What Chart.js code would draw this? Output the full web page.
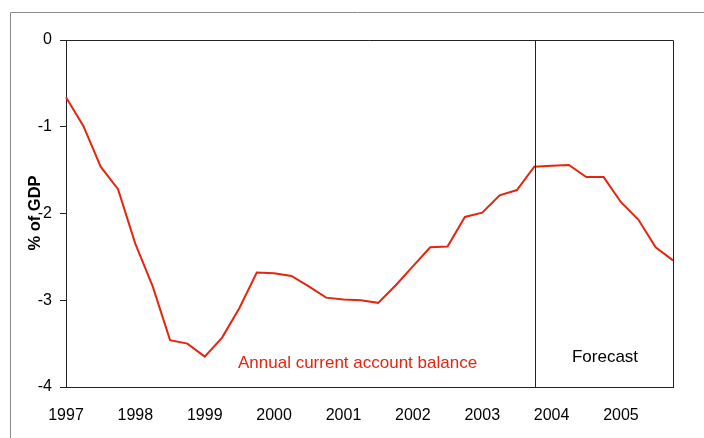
<!DOCTYPE html>
<html>
<head>
<meta charset="utf-8">
<script src="https://cdn.jsdelivr.net/npm/chart.js@4"></script>
<style>
  html, body { margin: 0; padding: 0; background: #fff; }
  #wrap { width: 704px; height: 438px; }
</style>
</head>
<body>
<div id="wrap"><canvas id="cab"></canvas></div>
<script>
// quarterly current account balance, % of GDP, 1997Q1 - 2005Q4
const years = ['1997', '1998', '1999', '2000', '2001', '2002', '2003', '2004', '2005'];
const quarters = years.flatMap(y => ['Q1', 'Q2', 'Q3', 'Q4'].map(q => y + ' ' + q));
const balance = [
  -0.66, -0.99, -1.46, -1.72,
  -2.35, -2.84, -3.46, -3.50,
  -3.65, -3.43, -3.09, -2.68,
  -2.69, -2.72, -2.84, -2.97,
  -2.99, -3.00, -3.03, -2.83,
  -2.61, -2.39, -2.38, -2.04,
  -1.99, -1.79, -1.73, -1.46,
  -1.45, -1.44, -1.58, -1.58,
  -1.87, -2.07, -2.39, -2.54
];
const yTicks = [0, -1, -2, -3, -4];
const forecastFrom = 27.05; // position of the forecast divider on the category axis

const FONT = '"Liberation Sans", Arial, sans-serif';
const RED = '#e5250f';

const extras = {
  id: 'extras',
  beforeDraw(chart) {
    const ctx = chart.ctx;
    ctx.save();
    // outer frame
    ctx.strokeStyle = '#8a8a8a';
    ctx.lineWidth = 1;
    ctx.beginPath();
    ctx.moveTo(10.5, 438);
    ctx.lineTo(10.5, 12.5);
    ctx.lineTo(704, 12.5);
    ctx.stroke();
    ctx.restore();
  },
  afterDatasetsDraw(chart) {
    const { ctx, chartArea: a, scales } = chart;
    ctx.save();
    // box around plot
    ctx.strokeStyle = '#222';
    ctx.lineWidth = 1;
    ctx.beginPath();
    ctx.moveTo(a.left, a.top + 0.5);
    ctx.lineTo(a.right + 0.5, a.top + 0.5);
    ctx.lineTo(a.right + 0.5, a.bottom);
    ctx.stroke();
    // forecast divider
    const fx = Math.round(scales.x.getPixelForValue(forecastFrom)) + 0.5;
    ctx.beginPath();
    ctx.moveTo(fx, a.top);
    ctx.lineTo(fx, a.bottom);
    ctx.stroke();

    ctx.font = '17px ' + FONT;
    ctx.textBaseline = 'middle';
    ctx.fillStyle = RED;
    ctx.textAlign = 'left';
    ctx.fillText('Annual current account balance', 238, 363);
    ctx.fillStyle = '#000';
    ctx.textAlign = 'center';
    ctx.fillText('Forecast', 605, 357);

    // y axis title
    ctx.translate(35, 213);
    ctx.rotate(-Math.PI / 2);
    ctx.font = 'bold 16.5px ' + FONT;
    ctx.fillText('% of GDP', 0, 0);
    ctx.restore();
  }
};

new Chart(document.getElementById('cab'), {
  type: 'line',
  data: {
    labels: quarters,
    datasets: [{
      label: 'Annual current account balance',
      data: balance,
      borderColor: RED,
      borderWidth: 2,
      pointRadius: 0,
      tension: 0,
      fill: false
    }]
  },
  options: {
    responsive: true,
    maintainAspectRatio: false,
    animation: false,
    devicePixelRatio: 1,
    layout: { padding: { top: 40, right: 31, left: 0, bottom: 0 } },
    plugins: {
      legend: { display: false },
      tooltip: { enabled: false }
    },
    scales: {
      x: {
        type: 'category',
        offset: false,
        grid: { display: false, drawTicks: false },
        border: { display: true, color: '#222', width: 1 },
        ticks: {
          autoSkip: false,
          maxRotation: 0,
          padding: 19,
          color: '#000',
          font: { family: FONT, size: 16 },
          callback: (v, i) => (i % 4 === 0 ? years[i / 4] : '')
        },
        afterFit: s => { s.height = 51; }
      },
      y: {
        min: -4,
        max: 0,
        grid: { display: true, drawOnChartArea: false, drawTicks: true, tickLength: 6, color: '#222' },
        border: { display: true, color: '#222', width: 1 },
        afterBuildTicks: s => { s.ticks = yTicks.map(v => ({ value: v })); },
        ticks: {
          padding: 8,
          color: '#000',
          font: { family: FONT, size: 16 }
        },
        afterFit: s => { s.width = 66; }
      }
    }
  },
  plugins: [extras]
});
</script>
</body>
</html>
